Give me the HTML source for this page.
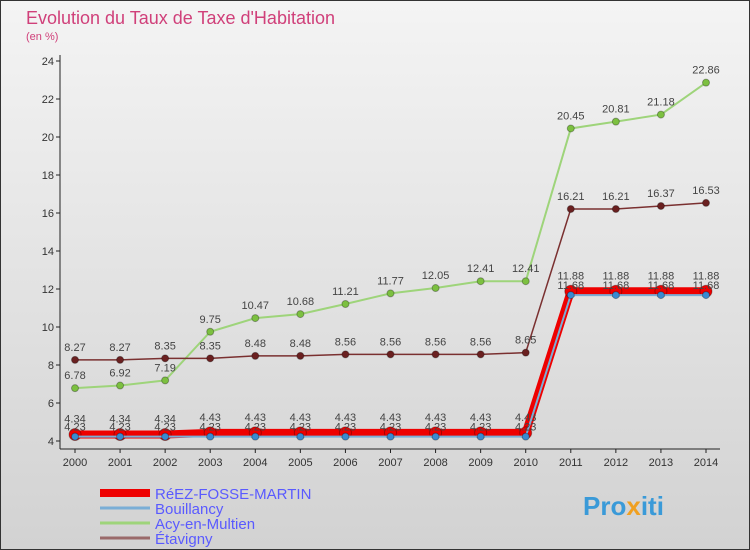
<!DOCTYPE html>
<html><head><meta charset="utf-8"><style>
body{margin:0;width:750px;height:550px;overflow:hidden;font-family:"Liberation Sans",sans-serif}
svg{display:block}
</style></head><body>
<svg width="750" height="550">
<defs><linearGradient id="bg" x1="0" y1="0" x2="0" y2="1"><stop offset="0" stop-color="#f4f4f4"/><stop offset="1" stop-color="#d2d2d2"/></linearGradient></defs>
<rect x="0.5" y="0.5" width="749" height="549" fill="url(#bg)" stroke="#333"/>
<text x="26" y="24" font-size="18" fill="#d0407a">Evolution du Taux de Taxe d'Habitation</text>
<text x="26" y="40" font-size="11" fill="#d0407a">(en %)</text>
<g id="axes"></g><g id="series"></g>
<g>
<line x1="100" y1="493" x2="150" y2="493" stroke="#e00" stroke-width="8"/>
<text x="155" y="499" font-size="15" fill="#5a5aff">RéEZ-FOSSE-MARTIN</text>
<line x1="100" y1="508" x2="150" y2="508" stroke="#7aaed6" stroke-width="3"/>
<text x="155" y="514" font-size="15" fill="#5a5aff">Bouillancy</text>
<line x1="100" y1="523" x2="150" y2="523" stroke="#9ed47a" stroke-width="3"/>
<text x="155" y="529" font-size="15" fill="#5a5aff">Acy-en-Multien</text>
<line x1="100" y1="538" x2="150" y2="538" stroke="#9a6a6a" stroke-width="3"/>
<text x="155" y="544" font-size="15" fill="#5a5aff">Étavigny</text>
</g>
<text x="583" y="515" font-size="26" font-weight="bold" fill="#3a9ad8">Pro<tspan fill="#f0a020">x</tspan>iti</text>
</svg>
<script>
const years=[2000,2001,2002,2003,2004,2005,2006,2007,2008,2009,2010,2011,2012,2013,2014];
const reez=[4.34,4.34,4.34,4.43,4.43,4.43,4.43,4.43,4.43,4.43,4.43,11.88,11.88,11.88,11.88];
const bouillancy=[4.23,4.23,4.23,4.23,4.23,4.23,4.23,4.23,4.23,4.23,4.23,11.68,11.68,11.68,11.68];
const acy=[6.78,6.92,7.19,9.75,10.47,10.68,11.21,11.77,12.05,12.41,12.41,20.45,20.81,21.18,22.86];
const etavigny=[8.27,8.27,8.35,8.35,8.48,8.48,8.56,8.56,8.56,8.56,8.65,16.21,16.21,16.37,16.53];
const yTicks=[4,6,8,10,12,14,16,18,20,22,24];
const NS="http://www.w3.org/2000/svg";
const x=i=>75+i*(631/14);
const y=v=>441-(v-4)*(380/20);
function mk(t,a,p){const e=document.createElementNS(NS,t);for(const k in a)e.setAttribute(k,a[k]);p.appendChild(e);return e;}
const ax=document.getElementById('axes');
let l=mk('line',{x1:60,y1:55,x2:60,y2:449,stroke:'#222'},ax);


l=mk('line',{x1:60,y1:449,x2:720,y2:449,stroke:'#222'},ax);


yTicks.forEach(v=>{mk('line',{x1:56,y1:y(v),x2:60,y2:y(v),stroke:'#222'},ax);
const t=mk('text',{x:54,y:y(v)+4,'font-size':11,'text-anchor':'end',fill:'#333'},ax);t.textContent=v;

});
years.forEach((yr,i)=>{mk('line',{x1:x(i),y1:449,x2:x(i),y2:453,stroke:'#222'},ax);
const t=mk('text',{x:x(i),y:466,'font-size':11,'text-anchor':'middle',fill:'#333'},ax);t.textContent=yr;

});
const sg=document.getElementById('series');
function series(name,data,color,w,r,dot,dy){
const g=mk('g',{},sg);


mk('polyline',{points:data.map((v,i)=>x(i)+','+y(v)).join(' '),fill:'none',stroke:color,'stroke-width':w},g);
data.forEach((v,i)=>{const c=mk('circle',{cx:x(i),cy:y(v),r:r,fill:dot,stroke:'rgba(0,0,0,0.3)'},g);


const t=mk('text',{x:x(i),y:y(v)+dy,'font-size':11,'text-anchor':'middle',fill:'#444'},g);t.textContent=v.toFixed(2).replace(/0$/,'');

});}
series('series-acy',acy,'#9ed47a',2,3.5,'#7cc040',-9);
series('series-etavigny',etavigny,'#7a3030',1.5,3.5,'#6a2020',-9);
series('series-reez',reez,'#e00',8,6,'#e00',-12);
series('series-bouillancy',bouillancy,'#7aaed6',2,3.5,'#3a8ad0',-6);
</script>
</body></html>
